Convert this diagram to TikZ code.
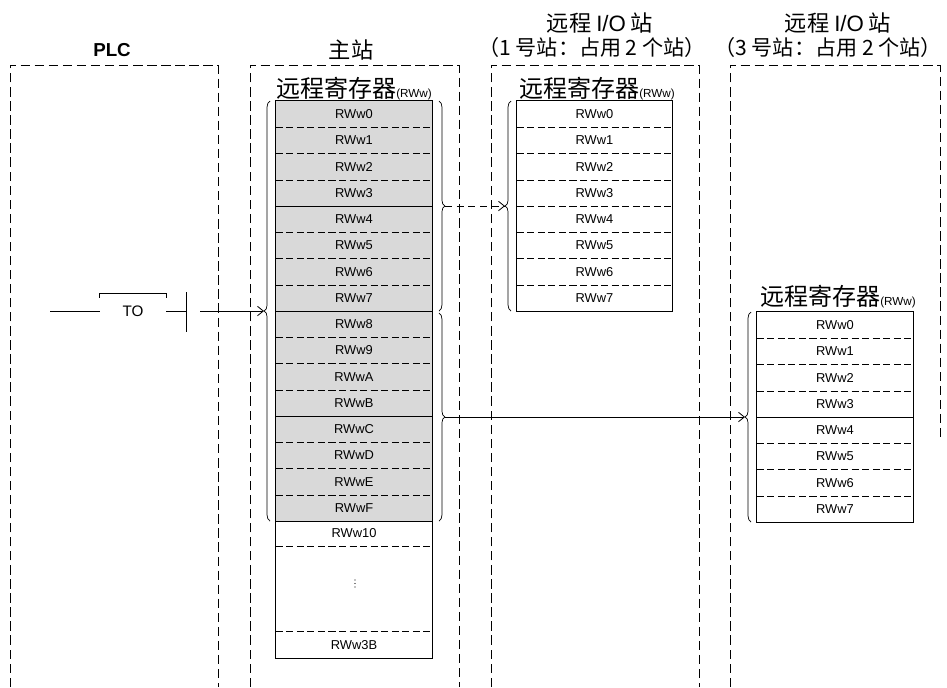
\documentclass[tikz,border=0pt]{standalone}
\usepackage{fontspec}
\setmainfont{Liberation Sans}
\newfontfamily\cjk{Noto Sans CJK SC}
\usetikzlibrary{arrows.meta,decorations.pathreplacing}

\definecolor{regfill}{HTML}{D9D9D9}
\tikzset{
  cell/.style={minimum width=4.68cm, minimum height=0.7875cm, inner sep=0pt,
    font=\fontsize{11}{12}\selectfont},
  sep/.style={dash pattern=on 6pt off 3pt, line width=0.6pt},
  frame/.style={dash pattern=on 8pt off 4pt, line width=0.7pt},
  heading/.style={font=\cjk\fontsize{19}{21}\selectfont, inner sep=0pt},
  subheading/.style={font=\cjk\fontsize{18}{20}\selectfont, inner sep=0pt},
  regtitle/.style={font=\cjk\fontsize{20.5}{22}\selectfont, inner sep=0pt},
  brc/.style={decorate, decoration={brace, amplitude=5pt}, line width=0.6pt},
  arr/.style={-{Straight Barb[length=5pt,width=8pt]}, line width=0.7pt}
}
\newcommand{\rww}{{\fontspec{Liberation Sans}\fontsize{10}{11}\selectfont (RWw)}}

\begin{document}
\begin{tikzpicture}[x=0.03cm, y=-0.03cm]
    \useasboundingbox (0,0) rectangle (947,687);

    % Station headings
    \node[font=\bfseries\fontsize{16}{18}\selectfont, inner sep=0pt] (hplc) at (112,50) {PLC};
    \node[heading] (hmain) at (351,50) {主站};
    \node[heading] (hs1a) at (600,23) {远程 {\fontspec{Liberation Sans}I/O} 站};
    \node[subheading] (hs1b) at (592,47) {（1 号站：占用 2 个站）};
    \node[heading] (hs3a) at (838,23) {远程 {\fontspec{Liberation Sans}I/O} 站};
    \node[subheading] (hs3b) at (828,47) {（3 号站：占用 2 个站）};

    % Dashed frames, open at the bottom
    \draw[frame] (10,687) -- (10,65) -- (218,65) -- (218,687);
    \draw[frame] (250,687) -- (250,65) -- (459,65) -- (459,687);
    \draw[frame] (491,687) -- (491,65) -- (699,65) -- (699,687);
    \draw[frame] (730,687) -- (730,65) -- (940,65) -- (940,440);

    % Master station registers
    \node[regtitle] (tmain) at (354,89) {远程寄存器\rww};
    \foreach \t [count=\i from 0] in {0,1,2,3,4,5,6,7,8,9,A,B,C,D,E,F}
        \node[cell] (m\i) at (354,{114.125+26.25*\i}) {};
    \fill[regfill] (m0.north west) rectangle (m15.south east);
    \foreach \t [count=\i from 0] in {0,1,2,3,4,5,6,7,8,9,A,B,C,D,E,F}
        \node[cell] at (m\i) {RWw\t};
    \node[cell] (m16) at (354,533) {RWw10};
    \node[cell] (m59) at (354,645) {RWw3B};
    \foreach \k in {0,1,2}
        \fill (355,{580+3.5*\k}) circle (0.6pt);
    \foreach \i in {0,1,2,4,5,6,8,9,10,12,13,14}
        \draw[sep] (m\i.south west) -- (m\i.south east);
    \foreach \i in {3,7,11}
        \draw[line width=0.6pt] (m\i.south west) -- (m\i.south east);
    \draw[sep] (m16.south west) -- (m16.south east);
    \draw[sep] (m59.north west) -- (m59.north east);
    \draw[line width=0.6pt] (m15.south west) -- (m15.south east);
    \draw[line width=0.6pt] (m0.north west) rectangle (m59.south east);

    % Remote I/O station 1
    \node[regtitle] (ts1) at (597,89) {远程寄存器\rww};
    \foreach \i in {0,...,7}
        \node[cell, minimum width=4.65cm] (a\i) at (594.5,{114.125+26.25*\i}) {RWw\i};
    \foreach \i in {0,...,6}
        \draw[sep] (a\i.south west) -- (a\i.south east);
    \draw[line width=0.6pt] (a0.north west) rectangle (a7.south east);

    % Remote I/O station 3
    \node[regtitle] (ts3) at (838,297) {远程寄存器\rww};
    \foreach \i in {0,...,7}
        \node[cell] (b\i) at (835,{325.125+26.25*\i}) {RWw\i};
    \foreach \i in {0,1,2,4,5,6}
        \draw[sep] (b\i.south west) -- (b\i.south east);
    \draw[line width=0.6pt] (b3.south west) -- (b3.south east);
    \draw[line width=0.6pt] (b0.north west) rectangle (b7.south east);

    % Braces
    \draw[brc] (270,521) -- (270,101);
    \draw[brc] (439,101) -- (439,311);
    \draw[brc] (439,313) -- (439,521);
    \draw[brc] (511,311) -- (511,101);
    \draw[brc] (751,522) -- (751,312);
    \coordinate (mL) at (264,311);
    \coordinate (mR1) at (445,206);
    \coordinate (mR2) at (445,417);
    \coordinate (s1L) at (505,206);
    \coordinate (s3L) at (745,417);

    % TO instruction
    \coordinate (lin) at (50,311);
    \node[inner sep=0pt, minimum width=1.98cm, minimum height=1.05cm,
          font=\fontsize{13}{14}\selectfont] (to) at (133,311) {TO};
    \draw[line width=0.6pt] (lin) -- (to.west);
    \draw[line width=0.6pt] ([yshift=-4pt]to.north west) -- (to.north west) -- (to.north east) -- ([yshift=-4pt]to.north east);
    \coordinate (rail) at (186,311);
    \draw[line width=0.6pt] (to.east) -- (rail);
    \draw[line width=0.8pt] (186,292) -- (186,332);
    \coordinate (railout) at (200,311);
    \draw[arr] (railout) -- (mL);

    % Transfers
    \draw[arr, dash pattern=on 6pt off 4pt] (mR1) -- (s1L);
    \draw[arr] (mR2) -- (s3L);
\end{tikzpicture}
\end{document}
